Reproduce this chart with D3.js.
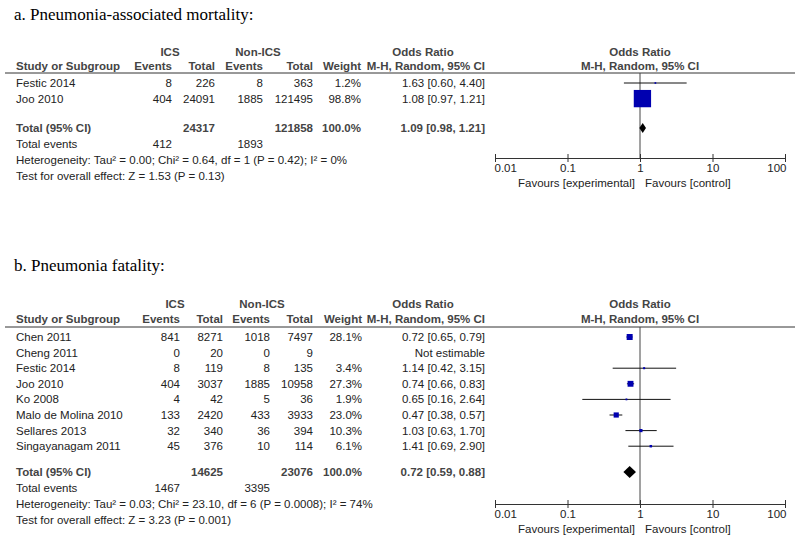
<!DOCTYPE html>
<html>
<head>
<meta charset="utf-8">
<script src="https://cdn.jsdelivr.net/npm/d3@7"></script>
<style>
  body { margin: 0; background: #fff; }
  text { font-family: "Liberation Sans", Arial, sans-serif; font-size: 11.5px; fill: #222; }
  .hd { font-weight: bold; fill: #444; }
  .title { font-family: "Liberation Serif", "Times New Roman", serif; font-size: 17px; fill: #000; }
</style>
</head>
<body>
<div id="chart"></div>
<script>
// panel a: pneumonia-associated mortality
const aStudies = ["Festic 2014", "Joo 2010"];
const aIcsEvents = [8, 404];
const aIcsTotal = [226, 24091];
const aCtlEvents = [8, 1885];
const aCtlTotal = [363, 121495];
const aWeight = [1.2, 98.8];
const aOR = [1.63, 1.08];
const aLo = [0.60, 0.97];
const aHi = [4.40, 1.21];
const aTotal = { ics: 24317, ctl: 121858, icsEvents: 412, ctlEvents: 1893, or: 1.09, lo: 0.98, hi: 1.21 };
const aHet = "Heterogeneity: Tau\u00b2 = 0.00; Chi\u00b2 = 0.64, df = 1 (P = 0.42); I\u00b2 = 0%";
const aTest = "Test for overall effect: Z = 1.53 (P = 0.13)";

// panel b: pneumonia fatality
const bStudies = ["Chen 2011", "Cheng 2011", "Festic 2014", "Joo 2010", "Ko 2008",
                  "Malo de Molina 2010", "Sellares 2013", "Singayanagam 2011"];
const bIcsEvents = [841, 0, 8, 404, 4, 133, 32, 45];
const bIcsTotal = [8271, 20, 119, 3037, 42, 2420, 340, 376];
const bCtlEvents = [1018, 0, 8, 1885, 5, 433, 36, 10];
const bCtlTotal = [7497, 9, 135, 10958, 36, 3933, 394, 114];
const bWeight = [28.1, null, 3.4, 27.3, 1.9, 23.0, 10.3, 6.1];
const bOR = [0.72, null, 1.14, 0.74, 0.65, 0.47, 1.03, 1.41];
const bLo = [0.65, null, 0.42, 0.66, 0.16, 0.38, 0.63, 0.69];
const bHi = [0.79, null, 3.15, 0.83, 2.64, 0.57, 1.70, 2.90];
const bTotal = { ics: 14625, ctl: 23076, icsEvents: 1467, ctlEvents: 3395, or: 0.72, lo: 0.59, hi: 0.88 };
const bHet = "Heterogeneity: Tau\u00b2 = 0.03; Chi\u00b2 = 23.10, df = 6 (P = 0.0008); I\u00b2 = 74%";
const bTest = "Test for overall effect: Z = 3.23 (P = 0.001)";

// axis ticks
const tickVals = [0.01, 0.1, 1, 10, 100];
const tickLabels = ["0.01", "0.1", "1", "10", "100"];

const width = 800;
const height = 541;

const svg = d3.select("#chart").append("svg")
    .attr("width", width)
    .attr("height", height);

// log scale shared by both forest plots
const x = d3.scaleLog().domain([0.01, 100]).range([495, 785]);
// square size from study weight
const box = d3.scaleLinear().domain([0, 100]).range([1.5, 17.5]);

const f2 = d3.format(".2f");
const f1 = d3.format(".1f");
const orText = (o, l, h) => f2(o) + " [" + f2(l) + ", " + f2(h) + "]";

function txt(g, xPos, yPos, s, anchor, cls) {
  return g.append("text")
    .attr("x", xPos)
    .attr("y", yPos)
    .attr("dy", "0.35em")
    .attr("text-anchor", anchor || "start")
    .attr("class", cls || null)
    .text(s);
}

function drawPanel(p) {
  const g = svg.append("g");
  const c = p.cols;
  const row = d3.scaleLinear().domain([0, 1]).range([p.y0, p.y0 + 15.6]);

  g.append("text").attr("class", "title")
    .attr("x", 14).attr("y", p.titleY)
    .text(p.title);

  // headers
  txt(g, c.icsMid, p.hy1, "ICS", "middle", "hd");
  txt(g, c.ctlMid, p.hy1, "Non-ICS", "middle", "hd");
  txt(g, 423, p.hy1, "Odds Ratio", "middle", "hd");
  txt(g, x(1), p.hy1, "Odds Ratio", "middle", "hd");
  txt(g, 16, p.hy2, "Study or Subgroup", "start", "hd");
  txt(g, c.ev, p.hy2, "Events", "end", "hd");
  txt(g, c.tot, p.hy2, "Total", "end", "hd");
  txt(g, c.cev, p.hy2, "Events", "end", "hd");
  txt(g, c.ctot, p.hy2, "Total", "end", "hd");
  txt(g, c.wt, p.hy2, "Weight", "end", "hd");
  txt(g, c.or, p.hy2, "M-H, Random, 95% CI", "end", "hd");
  txt(g, x(1), p.hy2, "M-H, Random, 95% CI", "middle", "hd");

  g.append("line")
    .attr("x1", 5).attr("x2", 795)
    .attr("y1", p.lineY).attr("y2", p.lineY)
    .attr("stroke", "#333");

  // study rows
  p.studies.forEach((s, i) => {
    const y = row(i);
    txt(g, 16, y, s);
    txt(g, c.ev, y, p.icsEvents[i], "end");
    txt(g, c.tot, y, p.icsTotal[i], "end");
    txt(g, c.cev, y, p.ctlEvents[i], "end");
    txt(g, c.ctot, y, p.ctlTotal[i], "end");
    if (p.or[i] == null) {
      txt(g, c.or, y, "Not estimable", "end");
      return;
    }
    txt(g, c.wt, y, f1(p.weight[i]) + "%", "end");
    txt(g, c.or, y, orText(p.or[i], p.lo[i], p.hi[i]), "end");
  });

  // totals
  const t = p.total;
  txt(g, 16, p.totY, "Total (95% CI)", "start", "hd");
  txt(g, c.tot, p.totY, t.ics, "end", "hd");
  txt(g, c.ctot, p.totY, t.ctl, "end", "hd");
  txt(g, c.wt, p.totY, "100.0%", "end", "hd");
  txt(g, c.or, p.totY, orText(t.or, t.lo, t.hi), "end", "hd");
  txt(g, 16, p.totY + 16, "Total events");
  txt(g, c.ev, p.totY + 16, t.icsEvents, "end");
  txt(g, c.cev, p.totY + 16, t.ctlEvents, "end");
  txt(g, 16, p.totY + 32, p.het);
  txt(g, 16, p.totY + 48, p.test);

  // line of no effect
  g.append("line")
    .attr("x1", x(1)).attr("x2", x(1))
    .attr("y1", p.lineY).attr("y2", p.axisY)
    .attr("stroke", "#444");

  // confidence intervals and squares
  const idx = d3.range(p.studies.length).filter(i => p.or[i] != null);
  g.selectAll(".ci").data(idx).enter().append("line")
    .attr("class", "ci")
    .attr("x1", i => x(p.lo[i])).attr("x2", i => x(p.hi[i]))
    .attr("y1", i => row(i)).attr("y2", i => row(i))
    .attr("stroke", "#111");
  g.selectAll(".sq").data(idx).enter().append("rect")
    .attr("class", "sq")
    .attr("x", i => x(p.or[i]) - box(p.weight[i]) / 2)
    .attr("y", i => row(i) - box(p.weight[i]) / 2)
    .attr("width", i => box(p.weight[i]))
    .attr("height", i => box(p.weight[i]))
    .attr("fill", "#0000b0");

  // pooled diamond
  const dh = p.dh;
  g.append("polygon")
    .attr("points", [[x(t.lo), p.totY], [x(t.or), p.totY - dh], [x(t.hi), p.totY], [x(t.or), p.totY + dh]].join(" "))
    .attr("fill", "#000");

  // axis
  const ax = g.append("g")
    .attr("transform", "translate(0," + p.axisY + ")")
    .style("color", "#333")
    .call(d3.axisBottom(x).tickValues(tickVals)
      .tickFormat((d, i) => tickLabels[i])
      .tickSize(4).tickSizeOuter(0).tickPadding(2));
  ax.selectAll(".tick line").attr("y1", -4).attr("y2", 4);
  ax.selectAll(".tick text")
    .attr("text-anchor", (d, i) => i === 0 ? "start" : (i === tickVals.length - 1 ? "end" : "middle"))
    .attr("dx", (d, i) => i === 0 ? -1 : (i === tickVals.length - 1 ? 1 : 0));

  txt(g, x(1) - 5, p.axisY + 25, "Favours [experimental]", "end");
  txt(g, x(1) + 5, p.axisY + 25, "Favours [control]", "start");
}

drawPanel({
  title: "a. Pneumonia-associated mortality:",
  titleY: 20, hy1: 52, hy2: 66, lineY: 73, y0: 83, totY: 128, axisY: 158, dh: 5,
  cols: { icsMid: 170, ctlMid: 258, ev: 172, tot: 215, cev: 263, ctot: 313, wt: 361, or: 485 },
  studies: aStudies, icsEvents: aIcsEvents, icsTotal: aIcsTotal, ctlEvents: aCtlEvents,
  ctlTotal: aCtlTotal, weight: aWeight, or: aOR, lo: aLo, hi: aHi,
  total: aTotal, het: aHet, test: aTest
});

drawPanel({
  title: "b. Pneumonia fatality:",
  titleY: 271, hy1: 304, hy2: 319, lineY: 327, y0: 337, totY: 472, axisY: 504, dh: 6,
  cols: { icsMid: 175, ctlMid: 262, ev: 180, tot: 223, cev: 270, ctot: 313, wt: 362, or: 485 },
  studies: bStudies, icsEvents: bIcsEvents, icsTotal: bIcsTotal, ctlEvents: bCtlEvents,
  ctlTotal: bCtlTotal, weight: bWeight, or: bOR, lo: bLo, hi: bHi,
  total: bTotal, het: bHet, test: bTest
});
</script>
</body>
</html>
